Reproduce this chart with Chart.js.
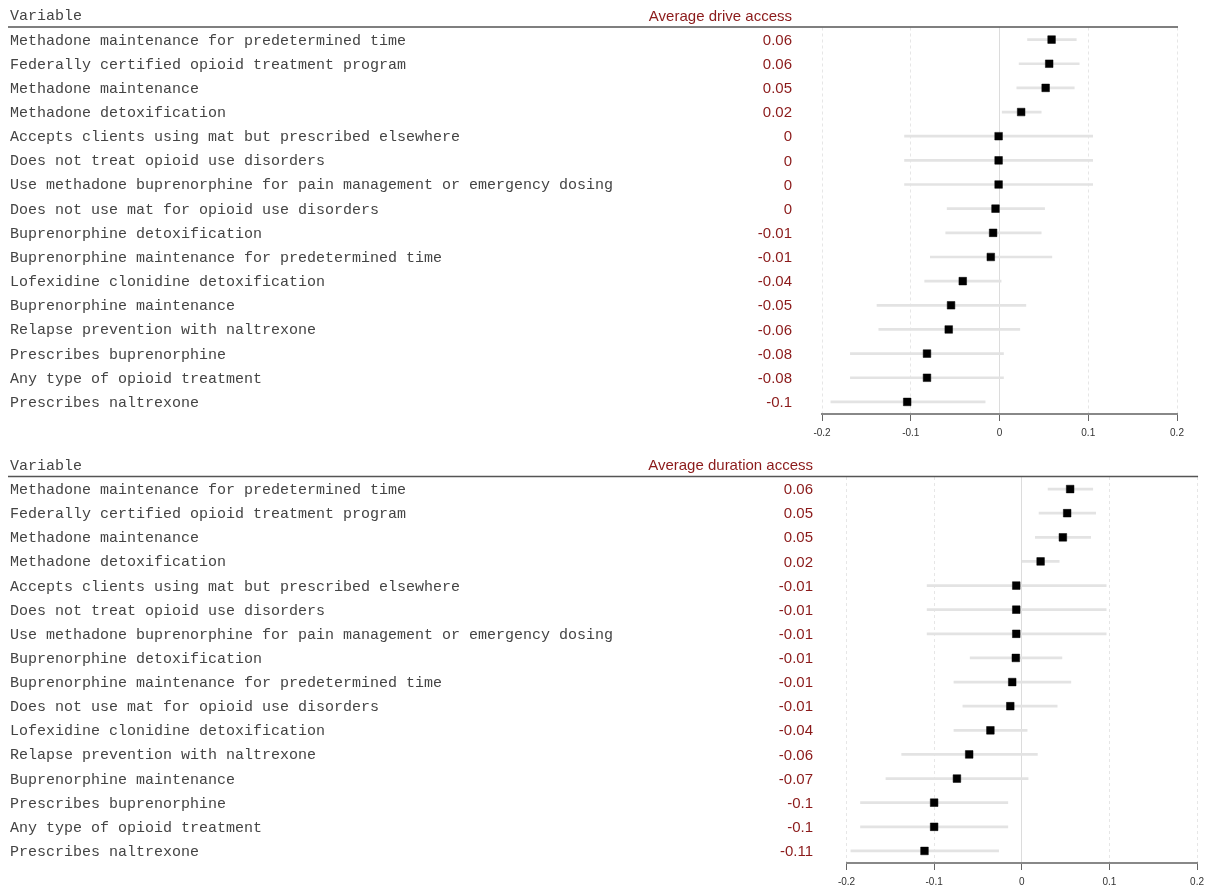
<!DOCTYPE html>
<html>
<head>
<meta charset="utf-8">
<script src="https://cdn.jsdelivr.net/npm/chart.js@4.4.1/dist/chart.umd.min.js"></script>
<style>
  html, body { margin: 0; padding: 0; background: #fff; }
  .panel { position: absolute; left: 0; width: 1210px; }
</style>
</head>
<body>
<div class="panel" style="top:0;height:445px"><canvas id="driveChart"></canvas></div>
<div class="panel" style="top:445px;height:444px"><canvas id="durationChart"></canvas></div>
<script>
// top panel: average drive access
const driveLabels = [
  "Methadone maintenance for predetermined time",
  "Federally certified opioid treatment program",
  "Methadone maintenance",
  "Methadone detoxification",
  "Accepts clients using mat but prescribed elsewhere",
  "Does not treat opioid use disorders",
  "Use methadone buprenorphine for pain management or emergency dosing",
  "Does not use mat for opioid use disorders",
  "Buprenorphine detoxification",
  "Buprenorphine maintenance for predetermined time",
  "Lofexidine clonidine detoxification",
  "Buprenorphine maintenance",
  "Relapse prevention with naltrexone",
  "Prescribes buprenorphine",
  "Any type of opioid treatment",
  "Prescribes naltrexone"
];
const driveEst = [0.0587, 0.056, 0.052, 0.0244, -0.001, -0.001, -0.001, -0.0045,
  -0.0072, -0.0098, -0.0414, -0.0546, -0.0572, -0.0817, -0.0817, -0.104];
const driveLo = [0.0316, 0.0221, 0.0195, 0.003, -0.107, -0.107, -0.107, -0.059,
  -0.0606, -0.0779, -0.0843, -0.138, -0.136, -0.168, -0.168, -0.190];
const driveHi = [0.0865, 0.0898, 0.0842, 0.047, 0.105, 0.105, 0.105, 0.0508,
  0.047, 0.059, 0.0018, 0.0297, 0.0229, 0.0045, 0.0045, -0.0162];
const driveText = ["0.06", "0.06", "0.05", "0.02", "0", "0", "0", "0",
  "-0.01", "-0.01", "-0.04", "-0.05", "-0.06", "-0.08", "-0.08", "-0.1"];

// bottom panel: average duration access
const durationLabels = [
  "Methadone maintenance for predetermined time",
  "Federally certified opioid treatment program",
  "Methadone maintenance",
  "Methadone detoxification",
  "Accepts clients using mat but prescribed elsewhere",
  "Does not treat opioid use disorders",
  "Use methadone buprenorphine for pain management or emergency dosing",
  "Buprenorphine detoxification",
  "Buprenorphine maintenance for predetermined time",
  "Does not use mat for opioid use disorders",
  "Lofexidine clonidine detoxification",
  "Relapse prevention with naltrexone",
  "Buprenorphine maintenance",
  "Prescribes buprenorphine",
  "Any type of opioid treatment",
  "Prescribes naltrexone"
];
const durationEst = [0.0552, 0.0518, 0.0469, 0.0215, -0.0063, -0.0063, -0.0063, -0.0068,
  -0.0109, -0.0131, -0.0358, -0.060, -0.074, -0.100, -0.100, -0.111];
const durationLo = [0.030, 0.0197, 0.0155, 0.0, -0.108, -0.108, -0.108, -0.0589,
  -0.0774, -0.0672, -0.0774, -0.137, -0.155, -0.184, -0.184, -0.195];
const durationHi = [0.081, 0.0843, 0.0786, 0.0427, 0.0963, 0.0963, 0.0963, 0.0458,
  0.056, 0.0404, 0.0061, 0.0178, 0.0072, -0.0159, -0.0159, -0.0264];
const durationText = ["0.06", "0.05", "0.05", "0.02", "-0.01", "-0.01", "-0.01", "-0.01",
  "-0.01", "-0.01", "-0.04", "-0.06", "-0.07", "-0.1", "-0.1", "-0.11"];

const xTicks = [-0.2, -0.1, 0, 0.1, 0.2];

// draws the variable names, the estimate column and the header row
const forestText = {
  id: "forestText",
  afterDraw(chart, args, opts) {
    const ctx = chart.ctx;
    const y = chart.scales.y;
    const area = chart.chartArea;
    ctx.save();
    ctx.textBaseline = "middle";
    // header
    ctx.font = "15px 'Liberation Mono', monospace";
    ctx.fillStyle = "#444";
    ctx.textAlign = "left";
    ctx.fillText("Variable", 10, area.top - 11);
    ctx.font = "15px 'Liberation Sans', Arial, sans-serif";
    ctx.fillStyle = "#8b1a1a";
    ctx.textAlign = "right";
    ctx.fillText(opts.title, opts.numRight, area.top - 11);
    ctx.strokeStyle = "#555";
    ctx.lineWidth = 1.5;
    ctx.beginPath();
    ctx.moveTo(8, area.top - 0.5);
    ctx.lineTo(area.right + 1, area.top - 0.5);
    ctx.stroke();
    // rows
    opts.labels.forEach((lab, i) => {
      const py = y.getPixelForValue(i);
      ctx.font = "15px 'Liberation Mono', monospace";
      ctx.fillStyle = "#444";
      ctx.textAlign = "left";
      ctx.fillText(lab, 10, py + 1);
      ctx.font = "15px 'Liberation Sans', Arial, sans-serif";
      ctx.fillStyle = "#8b1a1a";
      ctx.textAlign = "right";
      ctx.fillText(opts.texts[i], opts.numRight, py + 1);
    });
    ctx.restore();
  }
};

function makeForest(id, labels, est, lo, hi, texts, title, pad) {
  const ctx = document.getElementById(id).getContext("2d");
  return new Chart(ctx, {
    type: "bar",
    data: {
      labels: labels,
      datasets: [
        {
          type: "scatter",
          data: est.map((v, i) => ({ x: v, y: i })),
          backgroundColor: "#000",
          borderColor: "#000",
          pointStyle: "rect",
          pointRadius: 5.4,
          borderWidth: 0.5,
          order: 0,
        },
        {
          type: "bar",
          data: lo.map((v, i) => [v, hi[i]]),
          backgroundColor: "#e3e3e3",
          barThickness: 2,
          order: 1,
        },
      ],
    },
    options: {
      indexAxis: "y",
      responsive: true,
      maintainAspectRatio: false,
      animation: false,
      layout: { padding: pad },
      plugins: {
        legend: { display: false },
        tooltip: { enabled: false },
        forestText: { labels: labels, texts: texts, title: title, numRight: pad.numRight },
      },
      scales: {
        y: { type: "category", display: false, offset: true },
        x: {
          type: "linear",
          min: -0.2,
          max: 0.2,
          afterBuildTicks: (s) => { s.ticks = xTicks.map((v) => ({ value: v })); },
          afterFit: (s) => { s.height = pad.axisH; },
          ticks: {
            padding: 6,
            color: "#333",
            font: { family: "'Liberation Sans', Arial, sans-serif", size: 10 },
            callback: (v) => String(Math.round(v * 10) / 10),
          },
          grid: {
            color: (c) => (c.tick && c.tick.value === 0 ? "#dcdcdc" : "#e6e6e6"),
            lineWidth: 1,
            tickColor: "#666",
            tickLength: 7,
          },
          border: {
            color: "#888",
            width: 2,
            dash: (c) => (c.tick && c.tick.value !== 0 ? [3, 3] : []),
          },
        },
      },
    },
    plugins: [forestText],
  });
}

makeForest("driveChart", driveLabels, driveEst, driveLo, driveHi, driveText,
  "Average drive access",
  { left: 822, right: 33, top: 27.5, bottom: 1, axisH: 30, numRight: 792 });
makeForest("durationChart", durationLabels, durationEst, durationLo, durationHi, durationText,
  "Average duration access",
  { left: 846.5, right: 9.5, top: 32, bottom: 0, axisH: 26, numRight: 813 });
</script>
</body>
</html>
